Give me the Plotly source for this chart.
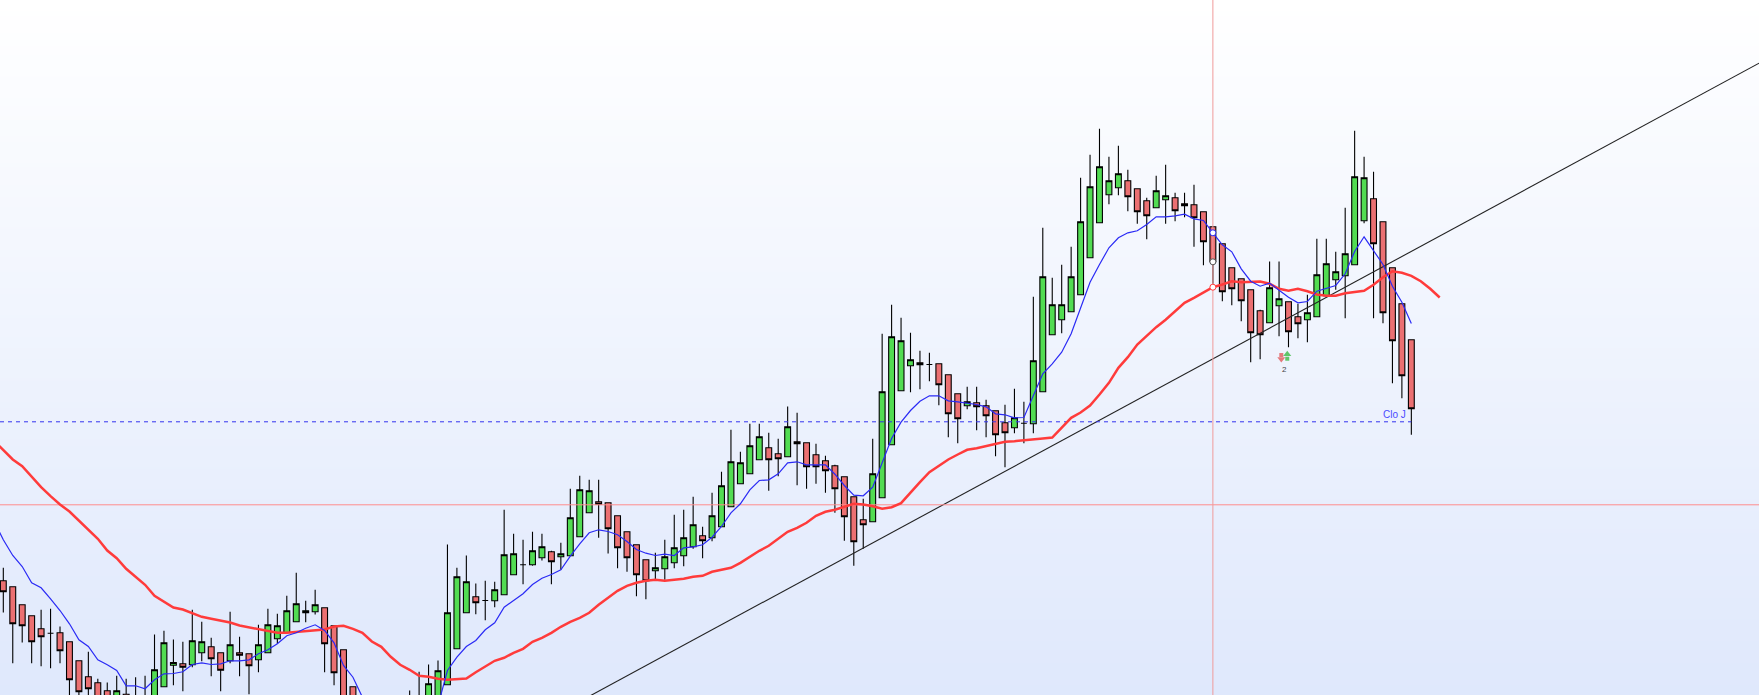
import plotly.graph_objects as go

# candle values (rows 38-44 sit below the visible window)
open_prices = [
    114.7, 108.7, 90.7, 79.7, 66.7, 62.3, 62.7, 53.7, 34.7, 18.7,
    12.7, 4.7, -8, 1.3, -15, -14, -15, 8.7, 30.3, 31.7,
    30.7, 42.7, 48.7, 42.7, 34.7, 42.7, 41.7, 35.7, 42.7, 56.7,
    63, 73.7, 82.7, 83.7, 87.7, 69.7, 45.7, 8.7, -12, -18,
    -32, -26, -20, -18, -15, -10, -16, 10.7, 46.7, 82.7,
    98.7, 95, 94.7, 100.7, 120.7, 130.7, 130.7, 137.7, 143.7, 138.7,
    139.7, 158.7, 182.7, 193.7, 192.7, 179.7, 163.7, 150.7, 135.7, 124.7,
    126.7, 132.7, 139.7, 148.7, 159.7, 157.7, 168.7, 188.7, 211.7, 221.7,
    235.7, 247.7, 241.7, 238.7, 253.7, 252.7, 240.7, 234.7, 229.7, 218.7,
    198.7, 175.7, 173.7, 197.7, 250.7, 304.7, 329.7, 332.7, 331, 331.7,
    320.7, 301.7, 289.7, 292.7, 289.7, 284.7, 272.7, 267.7, 272.3, 271.7,
    303.7, 360.7, 375.7, 383.7, 400.7, 437.7, 472.7, 500.7, 507.7, 514.7,
    506.7, 494.7, 487.7, 495.7, 497.7, 491.7, 490.7, 483.7, 468.7, 451.7,
    427.7, 416.7, 405.7, 384.7, 372.7, 389.7, 393.7, 378.7, 375.7, 378.7,
    399.7, 415.7, 419.7, 430.7, 474.7, 496.7, 473.7, 427.7, 391.7, 355.7,
]
high_prices = [
    127.7, 108.7, 90.7, 79.7, 85.7, 86.7, 69, 53.7, 34.7, 43.7,
    16.7, 13, 19.7, 16.7, 18.3, 19.7, 61, 64.7, 56, 53.7,
    85.7, 73.7, 57.7, 42.7, 83.7, 58.7, 41.7, 70.7, 86.7, 81.7,
    99.7, 122.7, 94.7, 105.7, 87.7, 69.7, 45.7, 8.7, -8, -14,
    -20, -20, -14, 5, 23.7, 31, 35, 151, 127.7, 140,
    112, 114.7, 113.7, 185.7, 161.7, 155.7, 163.7, 161.7, 144.7, 152.7,
    206.7, 219.7, 215.7, 215.7, 192.7, 179.7, 163.7, 150.7, 135.7, 142.7,
    155.7, 180.7, 185.7, 198.7, 168.7, 202.7, 223.7, 265.7, 243.7, 271.7,
    271.7, 262.7, 256.7, 289, 282.7, 252.7, 251.7, 239.7, 230.7, 218.7,
    198.7, 196.7, 256.7, 361.7, 390.7, 377.7, 362.7, 344.7, 342.7, 331.7,
    320.7, 301.7, 308.7, 308.7, 295.7, 284.7, 290.7, 306.7, 293.7, 398.7,
    467.7, 417.7, 430.7, 448.7, 517.7, 540.7, 566.7, 538.7, 549.7, 525.7,
    506.7, 497.7, 519.7, 530.7, 502.7, 502.7, 510.7, 483.7, 468.7, 451.7,
    427.7, 416.7, 405.7, 385.7, 434, 434, 393.7, 391.7, 400.7, 456.7,
    456.7, 443.7, 487.7, 564.7, 538.7, 523.7, 473.7, 427.7, 391.7, 355.7,
]
low_prices = [
    83, 32.3, 53, 32.3, 29.3, 27.3, 32.3, -15, -5, -5,
    -25, -20, -15, -25, -25, -25, -25, 8.7, 10.3, 4.3,
    28.3, 34.3, 19.3, 4.3, 32.3, 19.3, 1.3, 23.3, 42.7, 51.7,
    63, 73.7, 73.3, 81, 23.3, 10.3, -35, -25, -30, -36,
    -40, -42, -38, -26, -22, -18, -24, 10.7, 46.7, 82.7,
    81.3, 75.3, 88.3, 100.7, 120.7, 111.3, 129.7, 135, 111.3, 125.7,
    139.7, 158.7, 182.7, 157.7, 142, 127.3, 123.7, 99.3, 96.3, 114.7,
    115.7, 127.3, 129.3, 146.7, 137.3, 154.3, 168.7, 188.7, 211.7, 221.7,
    235.7, 204.7, 219.3, 238.7, 210.3, 206.7, 211.7, 202.7, 182.7, 154.7,
    129.7, 146.7, 173.7, 197.7, 250.7, 304.7, 303.3, 306.3, 314.3, 290.3,
    258.3, 252.3, 286.3, 265.3, 258.3, 239.3, 228.3, 262.3, 252.3, 262.3,
    303.7, 360.7, 362.3, 383.7, 400.7, 437.7, 472.7, 491.3, 500.3, 484.3,
    471.7, 456.3, 487.7, 471.7, 474.3, 478.3, 448.7, 430.3, 411.7, 394.3,
    390.3, 374.3, 333.3, 336.3, 372.7, 359.3, 348.3, 357.3, 353.3, 378.7,
    399.7, 405.7, 377.3, 430.7, 472.3, 377.3, 372.3, 312.3, 297.3, 260.7,
]
close_prices = [
    103.7, 71.7, 69.7, 53.7, 58.7, 62.3, 44.7, 15.7, 3.7, 6.7,
    -18, -12, 4.7, -15, -5, -6, 25.7, 52.7, 33, 28.3,
    54.7, 53.7, 36.7, 25.3, 50.7, 40.3, 29.7, 50.7, 70.7, 69.7,
    84.7, 91.7, 84.7, 90.7, 51.7, 22.7, -25, -15, -22, -28,
    -24, -34, -30, -8, -5, 11.7, 24.7, 82.7, 118.7, 113.7,
    92.7, 95, 105.7, 140.7, 141.7, 130.7, 144.7, 148.7, 133.7, 141.7,
    177.7, 205.7, 204.7, 191.3, 166.7, 147.7, 137.7, 120.7, 114.7, 127.7,
    138.7, 147.7, 157.7, 170.7, 154.7, 179.7, 209.7, 233.7, 232.7, 249.7,
    258.7, 235.7, 236.7, 268.7, 251.7, 228.7, 228.7, 224.7, 206.7, 178.7,
    153.7, 170.7, 221.7, 303.7, 358.7, 354.7, 335.7, 330.7, 331, 310.7,
    281.7, 276.7, 293.7, 288.7, 279.7, 260.7, 262.7, 277.7, 272.3, 334.7,
    418.7, 390.7, 390.7, 418.7, 473.7, 508.7, 528.7, 514.7, 521.7, 498.7,
    483.7, 479.7, 504.7, 499.7, 484.7, 489.7, 477.7, 453.7, 433.7, 403.7,
    406.7, 394.7, 362.7, 360.7, 407.7, 396.7, 363.7, 371.7, 382.7, 420.7,
    431.7, 423.7, 441.7, 518.7, 517.7, 451.7, 382.7, 354.7, 319.7, 286.7,
]
candle_index = list(range(150))

# moving averages, both start one bar left of the window
fast_ma = [
    175, 155.7, 140, 129, 112.7, 107.7, 96.7, 85, 71.7, 55.7, 49,
    35.7, 30.7, 25, 9.7, 9.7, 6.7, 15.7, 21.7, 22, 23.7,
    31, 32.7, 31, 31.7, 34.7, 34.7, 35.7, 41.7, 45.7, 51.7,
    59.7, 62.7, 67.3, 70.7, 65, 52.7, 30, 18.3, -1.7, -12,
    -22, -28, -30, -30, -28, -20, -10, 25, 38.3, 49,
    55, 65.7, 72.7, 88.3, 95, 101.7, 111, 117.3, 121, 125.7,
    139.3, 151.7, 162.7, 165.7, 164, 160.7, 154, 146, 142.3, 140,
    141.3, 140, 147.7, 148.7, 150.7, 158.3, 169, 182.7, 191.7, 205.7,
    215, 215.7, 221.7, 232.7, 233.7, 230.7, 230.7, 230.7, 221.3, 210,
    200.3, 199.7, 208.3, 233.3, 257, 273.3, 285, 294.3, 299.7, 299.7,
    294.7, 293.7, 292.7, 291, 288.7, 281.7, 280.7, 277.7, 278, 300,
    321.7, 331.7, 343.3, 361.7, 388.3, 413.3, 431, 447.7, 457.7, 462.7,
    464.7, 471, 478.7, 478.7, 479.7, 481.3, 476.7, 475, 462.7, 450.7,
    443.7, 426.7, 414.3, 409.3, 412.3, 405, 398.3, 392.7, 394, 404.3,
    407.3, 410, 421.7, 444, 458.7, 445, 431, 409.3, 393.3, 372,
]
fast_index = list(range(-1, 150))
slow_ma = [
    255, 246, 236, 229.3, 219, 208.3, 199.3, 191, 184, 175, 166,
    156.7, 145, 137.3, 126.7, 118.3, 110.7, 99.7, 93.7, 88, 86,
    82.7, 78.7, 76.7, 75, 73, 70, 68, 66.7, 64.3, 62.7,
    62.7, 63.7, 64.7, 65.3, 66, 69, 69.7, 66.7, 62.7, 54,
    48.7, 38.7, 30.7, 25.7, 19.7, 18.7, 16.7, 15.7, 16, 17,
    23.3, 29.3, 34.7, 37.7, 42.7, 46.7, 53.7, 57.7, 62.7, 68.7,
    73.7, 77.7, 82.7, 90.7, 97.7, 104.7, 109.7, 112.7, 114.7, 115.7,
    114.7, 115.7, 116.7, 118.7, 119.7, 123.7, 125.7, 127.7, 132.7, 138.7,
    144.7, 149.7, 156.7, 163.7, 167.7, 172.7, 179.7, 183.7, 185.7, 188.7,
    191.7, 191, 189.3, 186.7, 188.3, 192.3, 203.3, 213.3, 223.3, 230,
    236, 241, 245.7, 247.3, 249.3, 251.7, 253.7, 254.3, 255, 256,
    257, 258, 268.3, 277.7, 283, 290, 301, 312.7, 327.7, 338.3,
    351, 360, 368.3, 375.7, 384.3, 392.7, 397.7, 402.7, 408.3, 411,
    414.3, 413.3, 414, 414, 411.7, 406.7, 404.7, 406.7, 404.3, 401,
    399.7, 399.7, 402.3, 403.3, 404.7, 410.7, 418.3, 424.3, 422.7, 419.7,
    414.3, 406.7, 398,
]
slow_index = list(range(-1, 153))

trend_x = [62.16, 185.8]
trend_y = [0, 632.3]
close_level = 273.7
cross_bar = 128
cross_price = 190.7
cross_close = 433.7
cross_fast = 462.7
cross_slow = 408.3
x_range = [-0.35, 185.79]
y_range = [0.5, 695.5]

# signal arrows: head plus shaft, one marker each
signal_x = [135.24, 135.24, 135.87, 135.87]
signal_y = [336.5, 340.5, 341.3, 336.8]
signal_symbols = ['triangle-down', 'square', 'triangle-up', 'square']
signal_sizes = [7, 4, 7, 4]
signal_colors = ['#E04545', '#E04545', '#22B02A', '#22B02A']

fig = go.Figure()

# heatmap sits under the candles, a filled scatter would cover them
fig.add_trace(go.Heatmap(
    x=x_range, y=y_range, z=[[0, 0], [1, 1]], zsmooth='best',
    colorscale=[[0, '#DFE8FC'], [1, '#FFFFFF']], showscale=False, hoverinfo='skip'
))

fig.add_trace(go.Candlestick(
    x=candle_index, open=open_prices, high=high_prices, low=low_prices, close=close_prices,
    increasing=dict(line=dict(color='#000000', width=1.1), fillcolor='#52DC52'),
    decreasing=dict(line=dict(color='#000000', width=1.1), fillcolor='#EB7072'),
    showlegend=False, hoverinfo='skip'
))

fig.add_trace(go.Scatter(x=trend_x, y=trend_y, mode='lines',
                         line=dict(color='#222222', width=1.1), hoverinfo='skip', showlegend=False))
fig.add_trace(go.Scatter(x=[x_range[0], 149], y=[close_level, close_level], mode='lines',
                         line=dict(color='#3333EE', width=1, dash='4px,4px'), hoverinfo='skip', showlegend=False))
fig.add_trace(go.Scatter(x=x_range, y=[cross_price, cross_price], mode='lines',
                         line=dict(color='#FF8C8C', width=1), hoverinfo='skip', showlegend=False))
fig.add_trace(go.Scatter(x=[cross_bar, cross_bar], y=y_range, mode='lines',
                         line=dict(color='#F09A9A', width=1), hoverinfo='skip', showlegend=False))
fig.add_trace(go.Scatter(x=slow_index, y=slow_ma, mode='lines',
                         line=dict(color='#FF3B3B', width=2.5), hoverinfo='skip', showlegend=False))
fig.add_trace(go.Scatter(x=fast_index, y=fast_ma, mode='lines',
                         line=dict(color='#2A2AF5', width=1.2), hoverinfo='skip', showlegend=False))

fig.add_trace(go.Scatter(
    x=[cross_bar] * 3, y=[cross_close, cross_fast, cross_slow], mode='markers',
    marker=dict(size=6, color='#FFFFFF', line=dict(width=1, color=['#555555', '#2A2AF5', '#FF3B3B'])),
    hoverinfo='skip', showlegend=False
))
fig.add_trace(go.Scatter(
    x=signal_x, y=signal_y, mode='markers',
    marker=dict(size=signal_sizes, symbol=signal_symbols, color=signal_colors, line=dict(width=0)),
    hoverinfo='skip', showlegend=False
))

fig.add_annotation(x=147.2, y=281, text='Clo J', showarrow=False,
                   font=dict(family='Liberation Sans', size=10, color='#4A4AFF'))
fig.add_annotation(x=135.55, y=326, text='2', showarrow=False,
                   font=dict(family='Liberation Sans', size=8, color='#444444'))

fig.update_layout(
    width=1759, height=695, margin=dict(l=0, r=0, t=0, b=0),
    paper_bgcolor='#FFFFFF', plot_bgcolor='#FFFFFF', showlegend=False, hovermode=False,
    xaxis=dict(range=x_range, visible=False, rangeslider=dict(visible=False)),
    yaxis=dict(range=y_range, visible=False),
    boxgap=0.38, boxgroupgap=0
)

fig.write_html("out.html", config={'displayModeBar': False},
               post_script="document.body.style.margin='0';document.body.style.overflow='hidden';")
